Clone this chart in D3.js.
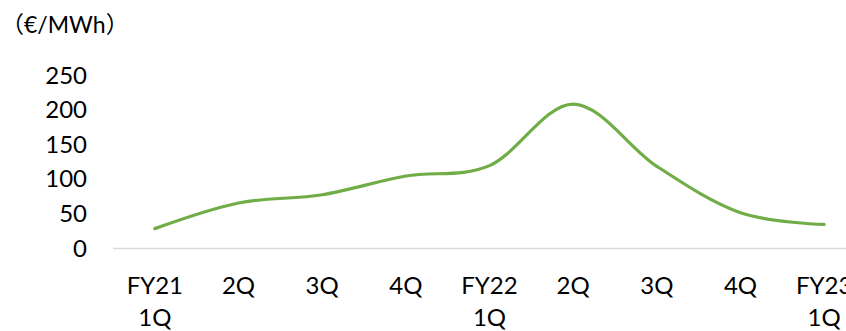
<!DOCTYPE html>
<html lang="ja">
<head>
  <meta charset="UTF-8">
  <title>Price chart</title>
  <script src="https://d3js.org/d3.v7.min.js"></script>
  <style>
    body { margin: 0; background: #fff; }
    text { font-family: Lato, "Noto Sans CJK JP", sans-serif; fill: #000; }
  </style>
</head>
<body>
  <div id="chart"></div>
  <script>
    // quarters (two-line labels) and price values
    const line1 = ["FY21", "2Q", "3Q", "4Q", "FY22", "2Q", "3Q", "4Q", "FY23"];
    const line2 = ["1Q", "", "", "", "1Q", "", "", "", "1Q"];
    const prices = [28, 65, 77, 104, 119, 208, 118, 51, 34];
    const yTicks = [0, 50, 100, 150, 200, 250];

    const width = 846, height = 331;

    const svg = d3.select("#chart").append("svg")
      .attr("width", width)
      .attr("height", height);

    const x = d3.scaleBand()
      .domain(d3.range(prices.length))
      .range([113, 866]);

    const y = d3.scaleLinear()
      .domain([0, 250])
      .range([248, 75]);

    // unit label
    svg.append("text")
      .attr("x", 1)
      .attr("y", 33)
      .style("font-size", "23px")
      .text("（€/MWh）");

    // y tick labels
    svg.selectAll(".ytick")
      .data(yTicks)
      .enter()
      .append("text")
      .attr("class", "ytick")
      .attr("x", 87)
      .attr("y", d => y(d))
      .attr("dy", "0.36em")
      .attr("text-anchor", "end")
      .style("font-size", "24px")
      .text(d => d);

    // axis line
    svg.append("line")
      .attr("x1", 113)
      .attr("x2", width)
      .attr("y1", y(0) + 0.5)
      .attr("y2", y(0) + 0.5)
      .attr("stroke", "#d9d9d9")
      .attr("stroke-width", 1.5);

    // x labels
    const xl = svg.selectAll(".xlab")
      .data(line1)
      .enter()
      .append("text")
      .attr("class", "xlab")
      .attr("text-anchor", "middle")
      .style("font-size", "24px");
    xl.append("tspan")
      .attr("x", (d, i) => x(i) + x.bandwidth() / 2)
      .attr("y", 294)
      .text(d => d);
    xl.append("tspan")
      .attr("x", (d, i) => x(i) + x.bandwidth() / 2)
      .attr("y", 326)
      .text((d, i) => line2[i]);

    // smoothed line
    const line = d3.line()
      .x((d, i) => x(i) + x.bandwidth() / 2)
      .y(d => y(d))
      .curve(d3.curveCatmullRom.alpha(0));

    svg.append("path")
      .datum(prices)
      .attr("fill", "none")
      .attr("stroke", "#70ad47")
      .attr("stroke-width", 3.2)
      .attr("stroke-linecap", "round")
      .attr("d", line);
  </script>
</body>
</html>
